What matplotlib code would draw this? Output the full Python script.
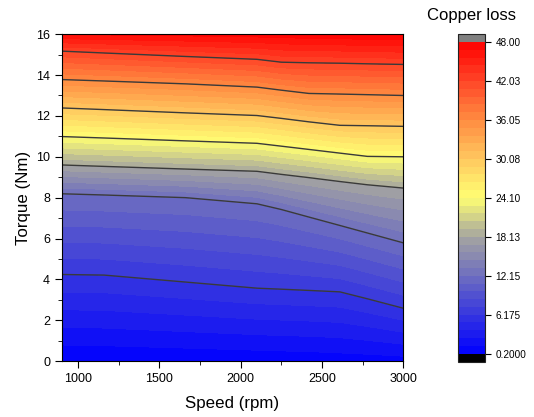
import numpy as np
import matplotlib
matplotlib.use("Agg")
from matplotlib import pyplot as plt
from matplotlib.colors import LinearSegmentedColormap

plt.rcParams['font.family'] = ['Liberation Sans', 'DejaVu Sans']

# speed columns (rpm) where the iso-loss lines bend
speed = [900, 1160, 1660, 2100, 2250, 2420, 2610, 2780, 3000]

# torque (Nm) at which the copper loss reaches each labelled level, per speed
t_6175 = [4.24, 4.21, 3.87, 3.57, 3.52, 3.46, 3.39, 3.05, 2.59]
t_1215 = [8.19, 8.13, 8.00, 7.70, 7.42, 7.05, 6.64, 6.27, 5.79]
t_1813 = [9.60, 9.53, 9.40, 9.29, 9.14, 8.98, 8.79, 8.63, 8.47]
t_2410 = [10.99, 10.92, 10.78, 10.66, 10.52, 10.36, 10.18, 10.02, 10.00]
t_3008 = [12.39, 12.31, 12.15, 12.02, 11.88, 11.71, 11.54, 11.52, 11.49]
t_3605 = [13.78, 13.71, 13.57, 13.41, 13.26, 13.10, 13.07, 13.04, 13.00]
t_4203 = [15.17, 15.08, 14.91, 14.77, 14.63, 14.60, 14.58, 14.55, 14.52]

# loss at zero torque and at 16 Nm
loss_bottom = [0.30, 0.35, 0.45, 0.55, 0.60, 0.65, 0.75, 0.80, 0.90]
loss_top = [46.9, 47.0, 47.2, 47.4, 47.5, 47.6, 47.7, 47.8, 47.9]

tick_labels = ["0.2000", "6.175", "12.15", "18.13", "24.10",
               "30.08", "36.05", "42.03", "48.00"]

levels = np.linspace(0.2, 48.0, 41)
major = levels[::5]

n = len(speed)
T = np.array([[0.0] * n, t_6175, t_1215, t_1813, t_2410,
              t_3008, t_3605, t_4203, [16.0] * n])
Z = np.vstack([loss_bottom] + [[v] * n for v in major[1:8]] + [loss_top])
S = np.tile(speed, (T.shape[0], 1))

cmap = LinearSegmentedColormap.from_list("cu", [
    (0.0, (0, 0, 1)),
    (0.375, (165 / 255, 165 / 255, 160 / 255)),
    (0.5, (1, 1, 115 / 255)),
    (0.625, (1, 200 / 255, 95 / 255)),
    (0.75, (1, 140 / 255, 65 / 255)),
    (0.875, (1, 70 / 255, 40 / 255)),
    (1.0, (1, 0, 0)),
])
cmap.set_over((0.5, 0.5, 0.5))
cmap.set_under((0, 0, 0))

fig = plt.figure(figsize=(5.34, 4.17), dpi=100)
ax = fig.add_axes([0.116, 0.134, 0.639, 0.784])
cax = fig.add_axes([0.858, 0.1326, 0.0506, 0.786])

cf = ax.contourf(S, T, Z, levels=levels, cmap=cmap, extend='both')
ax.contour(S, T, Z, levels=major[1:8], colors='#3a3a3a', linewidths=1.0)

ax.set_xlim(900, 3000)
ax.set_ylim(0, 16)
ax.set_xticks([1000, 1500, 2000, 2500, 3000])
ax.set_xticks(np.arange(1250, 3000, 500), minor=True)
ax.set_yticks(np.arange(0, 17, 2))
ax.set_yticks(np.arange(1, 16, 2), minor=True)
ax.tick_params(which='both', direction='out', labelsize=9)
ax.tick_params(which='major', length=5)
ax.tick_params(which='minor', length=3)
ax.set_xlabel("Speed (rpm)", fontsize=12.2, labelpad=8)
ax.set_ylabel("Torque (Nm)", fontsize=12.2, labelpad=4)

cb = fig.colorbar(cf, cax=cax, extend='both', extendrect=True,
                  extendfrac=0.026, ticks=major)
cb.ax.set_yticklabels(tick_labels)
cb.ax.tick_params(labelsize=7.2, length=4)
cb.outline.set_edgecolor('#222222')
fig.text(0.883, 0.962, "Copper loss", ha='center', va='center', fontsize=12)

fig.savefig("out.png", dpi=100)
